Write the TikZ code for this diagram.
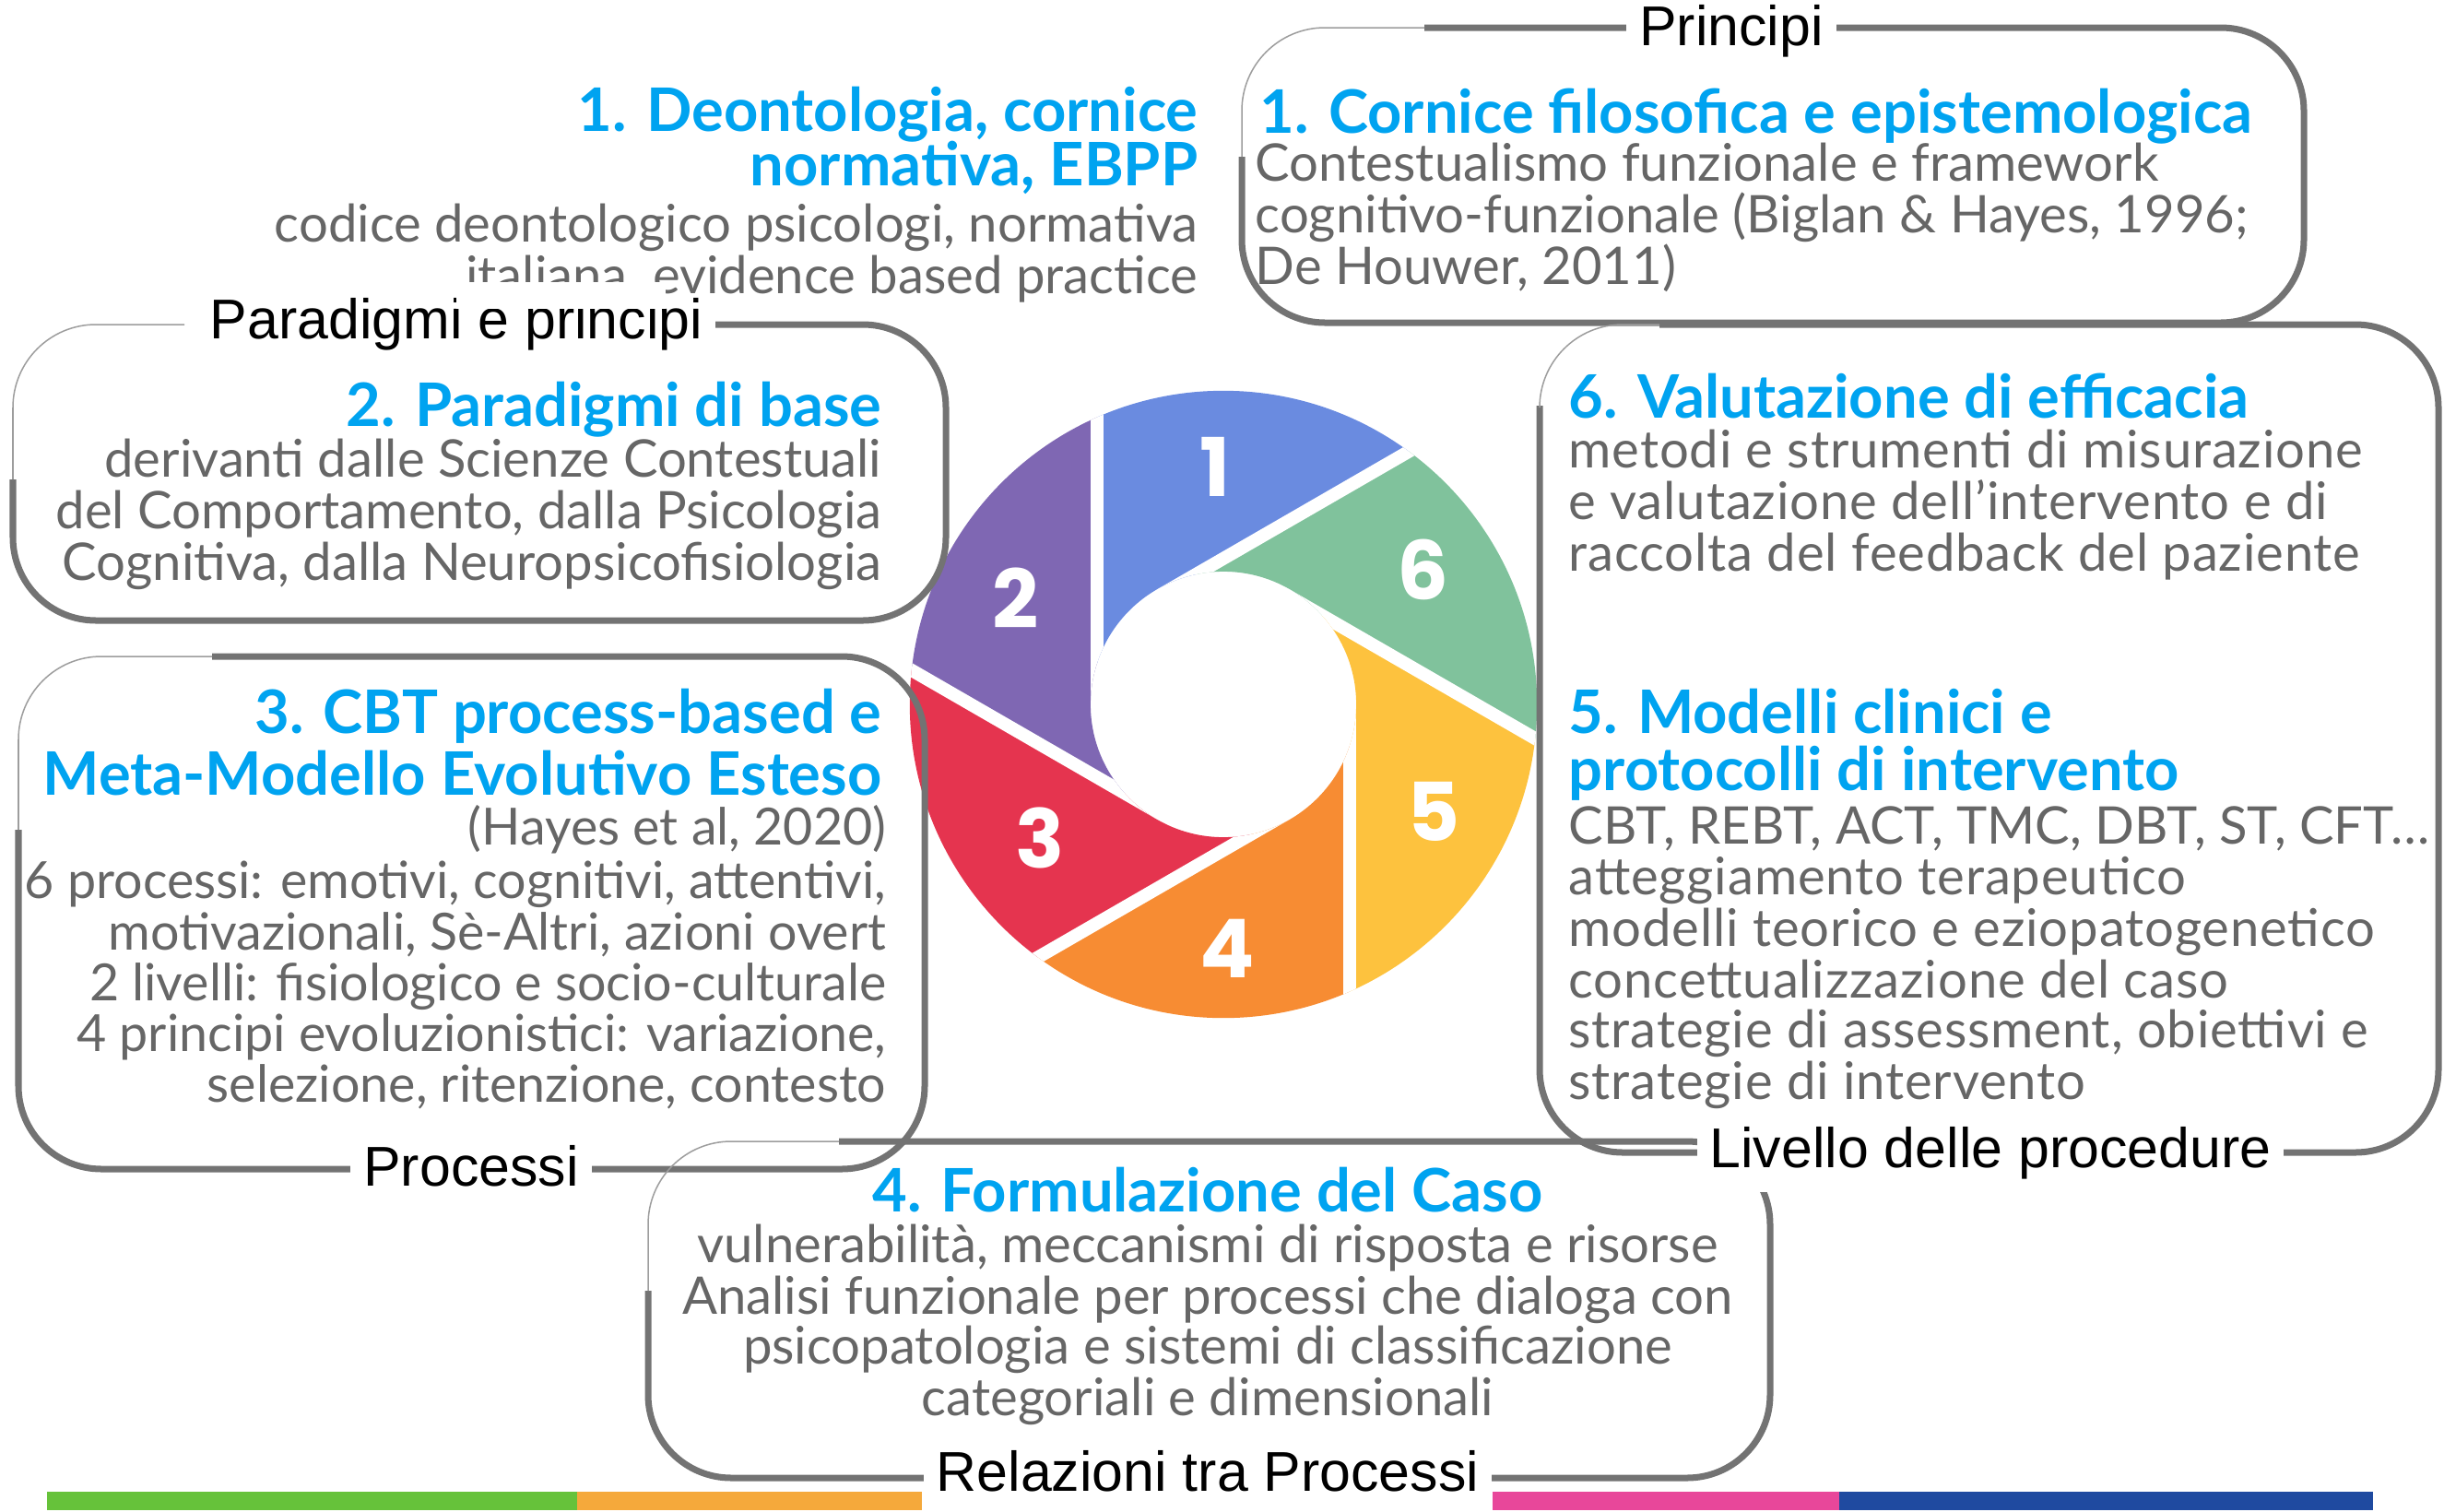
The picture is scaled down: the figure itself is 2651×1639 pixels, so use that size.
\documentclass[tikz,border=0pt]{standalone}
\usepackage{fontspec}
\setmainfont{Lato}
\newfontfamily\widefont[LetterSpace=1.5]{Lato}
\newfontfamily\labelfont{Liberation Sans}
\newfontfamily\digitfont{Poppins}
\usetikzlibrary{positioning}

\definecolor{boxgrey}{HTML}{737373}
\definecolor{bodygrey}{HTML}{666666}
\definecolor{headblue}{HTML}{00A3F0}
\definecolor{wheelA}{HTML}{6A8BE0}
\definecolor{wheelB}{HTML}{7F67B3}
\definecolor{wheelC}{HTML}{E5344F}
\definecolor{wheelD}{HTML}{F78C33}
\definecolor{wheelE}{HTML}{FDC23E}
\definecolor{wheelF}{HTML}{80C29C}
\definecolor{barA}{HTML}{66C23A}
\definecolor{barB}{HTML}{F5A93B}
\definecolor{barC}{HTML}{E8479A}
\definecolor{barD}{HTML}{1F4AA0}

\tikzset{
  boxframe/.style={draw=boxgrey, line width=0.07cm, rounded corners=0.9cm},
  fadeframe/.style={draw=boxgrey!70, line width=0.015cm, rounded corners=0.9cm},
  boxtag/.style={fill=white, inner sep=4pt, font=\labelfont\fontsize{17.3}{20}\selectfont},
  headline/.style={text=headblue, inner sep=0pt, font=\bfseries\fontsize{18.5}{20}\selectfont},
  bodyline/.style={text=bodygrey, inner sep=0pt, font=\fontsize{16}{18}\selectfont},
  smallbody/.style={bodyline, font=\fontsize{15.8}{18}\selectfont},
  widebody/.style={bodyline, font=\widefont\fontsize{16}{18}\selectfont},
  wheelnum/.style={text=white, font=\digitfont\bfseries\fontsize{25}{25}\selectfont},
}

\begin{document}
\begin{tikzpicture}[x=0.01cm, y=-0.01cm]
  \useasboundingbox (0,0) rectangle (2651,1639);

  % wheel: six petals cut along tangent lines
  \begin{scope}[shift={(1327,764)}, y=0.01cm, even odd rule]
    \clip (0,0) circle [radius=3.4cm] (0,0) circle [radius=1.44cm];
    \foreach \a/\col in {120/wheelA, 180/wheelB, 240/wheelC, 300/wheelD, 0/wheelE, 60/wheelF} {
      \fill[\col] (\a:137) -- ({137*cos(\a)+600*cos(\a-90)}, {137*sin(\a)+600*sin(\a-90)})
        -- ({137*cos(\a+60)+600*cos(\a-30)}, {137*sin(\a+60)+600*sin(\a-30)})
        -- ({\a+60}:137) -- cycle;
    }
    \foreach \a in {0,60,...,300}
      \draw[white, line width=0.14cm] (\a:137) -- ++({\a-90}:450);
  \end{scope}
  \begin{scope}[shift={(1327,764)}, y=0.01cm]
    \foreach \n/\ang/\rad in {1/92/258, 2/153/253, 3/216/246, 4/271/265, 5/333/256, 6/34/261}
      \node[wheelnum] (num\n) at (\ang:\rad) {\n};
  \end{scope}

  % boxes
  \draw[boxframe] (1545,30) -- (2499,30) -- (2499,350) -- (1347,350) -- (1347,170);
  \draw[fadeframe] (1347,170) -- (1347,30) -- (1545,30);
  \draw[boxframe] (760,352) -- (1026,352) -- (1026,673) -- (14,673) -- (14,520);
  \draw[fadeframe] (14,520) -- (14,352) -- (200,352);
  \draw[boxframe] (230,712) -- (1003,712) -- (1003,1268) -- (20,1268) -- (20,900);
  \draw[fadeframe] (20,900) -- (20,712) -- (230,712);
  \draw[boxframe] (1800,352) -- (2645,352) -- (2645,1250) -- (1670,1250) -- (1670,440);
  \draw[fadeframe] (1670,440) -- (1670,352) -- (1800,352);
  \draw[boxframe] (910,1238) -- (1920,1238) -- (1920,1603) -- (703,1603) -- (703,1400);
  \draw[fadeframe] (703,1400) -- (703,1238) -- (910,1238);

  % box labels
  \node[boxtag] (tag-principi) at (1878,34) {Principi};
  \node[boxtag] (tag-paradigmi) at (495,352) {Paradigmi e principi};
  \node[boxtag] (tag-processi) at (511,1265) {Processi};
  \node[boxtag] (tag-procedure) at (2159,1251) {Livello delle procedure};
  \node[boxtag] (tag-relazioni) at (1310,1596) {Relazioni tra Processi};

  % 1. deontologia
  \foreach \y/\t [count=\i] in {142/{1. Deontologia, cornice}, 201/{normativa, EBPP}}
    \node[headline, anchor=base east] (deo-h\i) at (1300,\y) {\t};
  \foreach \y/\t [count=\i] in {262/{codice deontologico psicologi, normativa},
                                318/{italiana, evidence based practice}}
    \node[bodyline, anchor=base east] (deo-b\i) at (1300,\y) {\t};
  \fill[white] (495,306) rectangle (722,335);

  % 1. cornice
  \node[headline, anchor=base west] (cor-h1) at (1366,144) {1. Cornice filosofica e epistemologica};
  \foreach \y/\t [count=\i] in {196/{Contestualismo funzionale e framework},
                                252/{cognitivo-funzionale (Biglan \& Hayes, 1996;},
                                308/{De Houwer, 2011)}}
    \node[bodyline, anchor=base west] (cor-b\i) at (1361,\y) {\t};

  % 2. paradigmi
  \node[headline, anchor=base east] (par-h1) at (957,462) {2. Paradigmi di base};
  \foreach \y/\t [count=\i] in {517/{derivanti dalle Scienze Contestuali},
                                573/{del Comportamento, dalla Psicologia},
                                629/{Cognitiva, dalla Neuropsicofisiologia}}
    \node[bodyline, anchor=base east] (par-b\i) at (957,\y) {\t};

  % 3. CBT
  \foreach \y/\t [count=\i] in {795/{3. CBT process-based e}, 862/{Meta-Modello Evolutivo Esteso}}
    \node[headline, anchor=base east] (cbt-h\i) at (957,\y) {\t};
  \foreach \y/\t [count=\i] in {916/{(Hayes et al, 2020)},
                                974/{6 processi: emotivi, cognitivi, attentivi,},
                                1030/{motivazionali, Sè-Altri, azioni overt},
                                1085/{2 livelli: fisiologico e socio-culturale},
                                1140/{4 principi evoluzionistici: variazione,},
                                1195/{selezione, ritenzione, contesto}}
    \node[smallbody, anchor=base east] (cbt-b\i) at (962,\y) {\t};

  % 6. valutazione
  \node[headline, anchor=base west] (val-h1) at (1701,453) {6. Valutazione di efficacia};
  \foreach \y/\t [count=\i] in {507/{metodi e strumenti di misurazione},
                                563/{e valutazione dell’intervento e di},
                                619/{raccolta del feedback del paziente}}
    \node[widebody, anchor=base west] (val-b\i) at (1701,\y) {\t};

  % 5. modelli
  \foreach \y/\t [count=\i] in {795/{5. Modelli clinici e}, 857/{protocolli di intervento}}
    \node[headline, anchor=base west] (mod-h\i) at (1701,\y) {\t};
  \node[bodyline, anchor=base west] (mod-b1) at (1701,915) {CBT, REBT, ACT, TMC, DBT, ST, CFT…};
  \foreach \y/\t [count=\i from 2] in {970/{atteggiamento terapeutico},
                                1026/{modelli teorico e eziopatogenetico},
                                1082/{concettualizzazione del caso},
                                1136/{strategie di assessment, obiettivi e},
                                1192/{strategie di intervento}}
    \node[widebody, anchor=base west] (mod-b\i) at (1701,\y) {\t};

  % 4. formulazione
  \node[headline, anchor=base] (for-h1) at (1310,1314) {4. Formulazione del Caso};
  \foreach \y/\t [count=\i] in {1369/{vulnerabilità, meccanismi di risposta e risorse},
                                1425/{Analisi funzionale per processi che dialoga con},
                                1479/{psicopatologia e sistemi di classificazione},
                                1535/{categoriali e dimensionali}}
    \node[bodyline, anchor=base] (for-b\i) at (1310,\y) {\t};

  % colour bars
  \fill[barA] (51,1618) rectangle (626,1638);
  \fill[barB] (626,1618) rectangle (1000,1638);
  \fill[barC] (1619,1618) rectangle (1995,1638);
  \fill[barD] (1995,1618) rectangle (2574,1638);
\end{tikzpicture}
\end{document}
